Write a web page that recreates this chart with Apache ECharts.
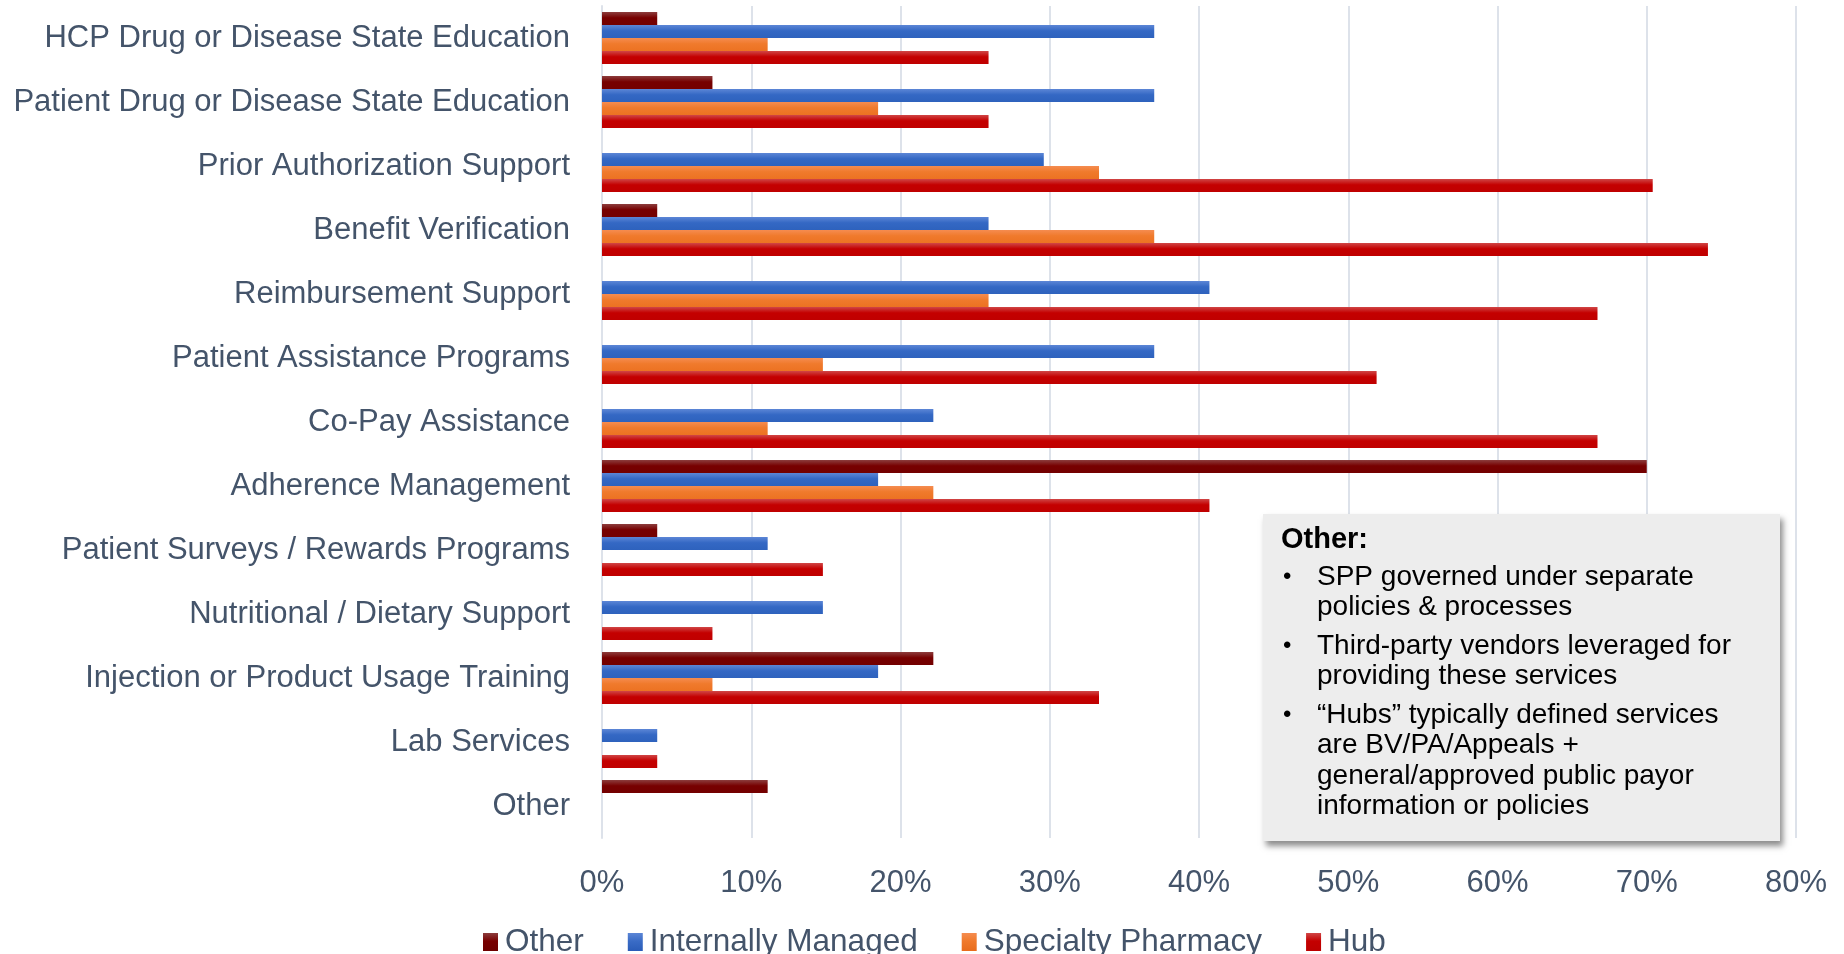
<!DOCTYPE html>
<html>
<head>
<meta charset="utf-8">
<script src="https://cdn.jsdelivr.net/npm/echarts@6/dist/echarts.min.js"></script>
<style>
  html, body { margin: 0; padding: 0; background: #fff; }
  #chart { width: 1844px; height: 954px; }
</style>
</head>
<body>
<div id="chart"></div>
<script>
// categories, top to bottom
var categories = [
  "HCP Drug or Disease State Education",
  "Patient Drug or Disease State Education",
  "Prior Authorization Support",
  "Benefit Verification",
  "Reimbursement Support",
  "Patient Assistance Programs",
  "Co-Pay Assistance",
  "Adherence Management",
  "Patient Surveys / Rewards Programs",
  "Nutritional / Dietary Support",
  "Injection or Product Usage Training",
  "Lab Services",
  "Other"
];

// values in %
var otherVals     = [3.7, 7.4, null, 3.7, null, null, null, 70.0, 3.7, null, 22.2, null, 11.1];
var internalVals  = [37.0, 37.0, 29.6, 25.9, 40.7, 37.0, 22.2, 18.5, 11.1, 14.8, 18.5, 3.7, null];
var specialtyVals = [11.1, 18.5, 33.3, 37.0, 25.9, 14.8, 11.1, 22.2, null, null, 7.4, null, null];
var hubVals       = [25.9, 25.9, 70.4, 74.1, 66.7, 51.9, 66.7, 40.7, 14.8, 7.4, 33.3, 3.7, null];

var seriesNames = ["Other", "Internally Managed", "Specialty Pharmacy", "Hub"];
var axisTicks = [0, 10, 20, 30, 40, 50, 60, 70, 80];

var noteTitle = "Other:";
var noteBullets = [
  ["SPP governed under separate", "policies & processes"],
  ["Third-party vendors leveraged for", "providing these services"],
  ["\u201cHubs\u201d typically defined services", "are BV/PA/Appeals +", "general/approved public payor", "information or policies"]
];

var FONT = "Liberation Sans";
var SLATE = "#44546A";

// bar gradient: lighter stripe on top
function grad(top, mid, base) {
  return new echarts.graphic.LinearGradient(0, 0, 0, 1, [
    { offset: 0, color: top },
    { offset: 0.45, color: mid },
    { offset: 1, color: base }
  ]);
}
var fills = [
  grad("#8c3d3d", "#770000", "#730000"),
  grad("#5c86d6", "#3468c4", "#2e62bd"),
  grad("#f58c50", "#f07a2c", "#ec7222"),
  grad("#d04646", "#c40000", "#c00000")
];
var legendFills = [
  grad("#8c3d3d", "#780000", "#6e0000"),
  grad("#5c86d6", "#3a6cc6", "#2a5cb8"),
  grad("#f58c50", "#f07a2c", "#e86c1c"),
  grad("#d04646", "#c40000", "#bc0000")
];
var data = [otherVals, internalVals, specialtyVals, hubVals];

var chart = echarts.init(document.getElementById("chart"));

// note box
var graphics = [{
  type: "rect",
  shape: { x: 1263, y: 514, width: 517, height: 327 },
  style: {
    fill: "#ededed",
    shadowBlur: 6,
    shadowOffsetX: 3,
    shadowOffsetY: 5,
    shadowColor: "rgba(0,0,0,0.45)"
  },
  z: 10
}, {
  type: "text",
  x: 1281, y: 540,
  style: { text: noteTitle, font: "bold 29px '" + FONT + "'", fill: "#000", verticalAlign: "middle" },
  z: 11
}];
var ly = 577;
noteBullets.forEach(function (lines) {
  graphics.push({
    type: "text", x: 1283, y: ly,
    style: { text: "\u2022", font: "24px '" + FONT + "'", fill: "#000", verticalAlign: "middle" },
    z: 11
  });
  lines.forEach(function (t) {
    graphics.push({
      type: "text", x: 1317, y: ly,
      style: { text: t, font: "28px '" + FONT + "'", fill: "#000", verticalAlign: "middle" },
      z: 11
    });
    ly += 30.3;
  });
  ly += 8.5;
});

chart.setOption({
  animation: false,
  textStyle: { fontFamily: FONT },
  grid: { left: 602, right: 48, top: 6, bottom: 116, containLabel: false },
  legend: {
    left: 478,
    top: 921,
    itemWidth: 15,
    itemHeight: 18,
    itemGap: 44,
    icon: "rect",
    textStyle: { fontSize: 31.5, color: SLATE, fontFamily: FONT, padding: [0, 0, 0, 2] },
    data: seriesNames.map(function (n, i) {
      return { name: n, itemStyle: { color: legendFills[i] } };
    })
  },
  xAxis: {
    type: "value",
    min: axisTicks[0],
    max: axisTicks[axisTicks.length - 1],
    interval: 10,
    axisLine: { show: false },
    axisTick: { show: false },
    axisLabel: { formatter: "{value}%", fontSize: 31, color: SLATE, margin: 30 },
    splitLine: { show: true, lineStyle: { color: "#dde2ea", width: 2 } }
  },
  yAxis: {
    type: "category",
    data: categories,
    inverse: true,
    axisLine: { show: true, lineStyle: { color: "#dde2ea", width: 2 } },
    axisTick: { show: false },
    axisLabel: { fontSize: 31, color: SLATE, margin: 32, padding: [5, 0, 0, 0] }
  },
  series: seriesNames.map(function (n, i) {
    return {
      name: n,
      type: "bar",
      data: data[i],
      barWidth: 13,
      barGap: "0%",
      itemStyle: { color: fills[i] }
    };
  }),
  graphic: graphics
});
</script>
</body>
</html>
